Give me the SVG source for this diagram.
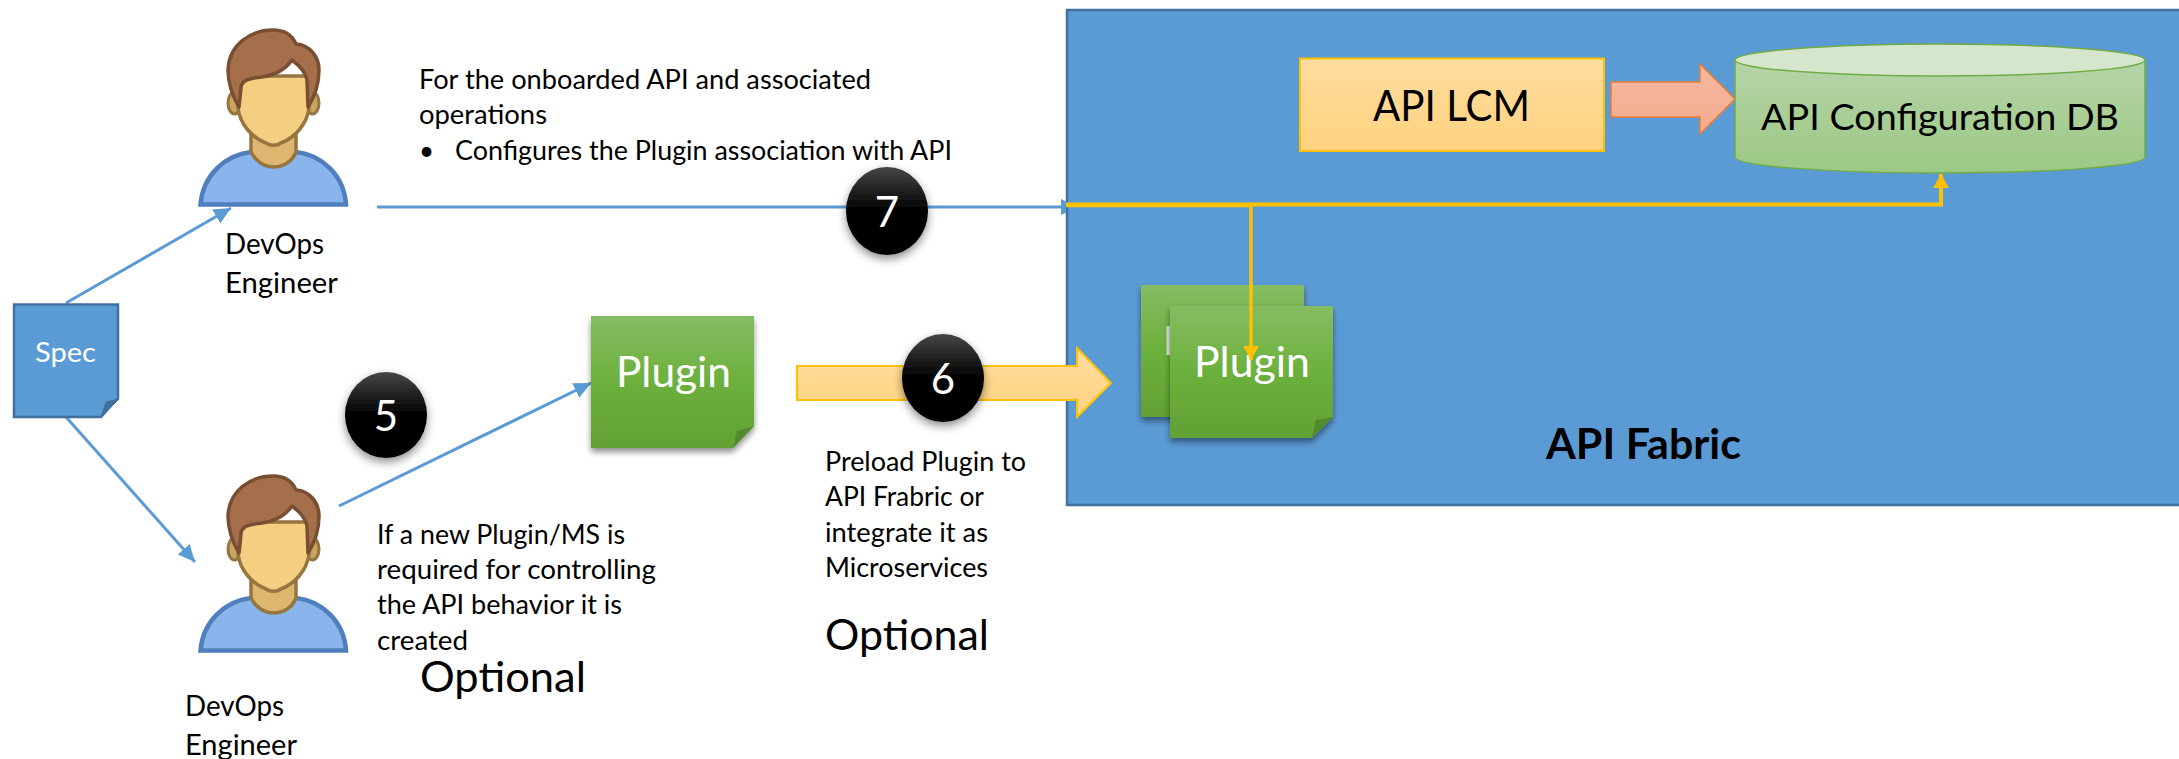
<svg xmlns="http://www.w3.org/2000/svg" xmlns:xlink="http://www.w3.org/1999/xlink" width="2179" height="759" viewBox="0 0 2179 759">
<style>
text{font-family:Lato,"Open Sans",sans-serif;fill:#000}
.b{font-size:26px}
.l{font-size:42px}
.w{fill:#fff}
.blue{stroke:#5b9bd5;stroke-width:3;fill:none}
.gold{stroke:#ffc000;fill:none}
.plug{fill:url(#gp);filter:url(#sh)}
.fold{fill:#528a2e}
.dot{fill:url(#gc);filter:url(#sc)}
</style>
<defs>
<linearGradient id="gp" x1="0" y1="0" x2="0" y2="1"><stop offset="0" stop-color="#85bc63"/><stop offset=".5" stop-color="#6cb03c"/><stop offset="1" stop-color="#62a135"/></linearGradient>
<linearGradient id="gc" x1="0" y1="0" x2="0" y2="1"><stop offset="0" stop-color="#474747"/><stop offset=".5" stop-color="#000"/><stop offset="1" stop-color="#000"/></linearGradient>
<linearGradient id="go" x1="0" y1="0" x2="0" y2="1"><stop offset="0" stop-color="#ffdd9f"/><stop offset="1" stop-color="#ffd27f"/></linearGradient>
<linearGradient id="gr" x1="0" y1="0" x2="0" y2="1"><stop offset="0" stop-color="#f5b8a0"/><stop offset="1" stop-color="#f4ab8e"/></linearGradient>
<linearGradient id="gd" x1="0" y1="0" x2="0" y2="1"><stop offset="0" stop-color="#b6d4a8"/><stop offset="1" stop-color="#9cc884"/></linearGradient>
<filter id="sh" x="-20%" y="-20%" width="140%" height="140%"><feDropShadow dx="0" dy="4" stdDeviation="3" flood-color="#000" flood-opacity=".45"/></filter>
<filter id="sc" x="-30%" y="-30%" width="160%" height="160%"><feDropShadow dx="0" dy="4" stdDeviation="5" flood-color="#000" flood-opacity=".45"/></filter>
<marker id="ab" markerUnits="userSpaceOnUse" markerWidth="18" markerHeight="18" refX="17" refY="8" orient="auto"><path d="M0 0L17 8L0 16Z" fill="#5b9bd5"/></marker>
<marker id="abt" markerUnits="userSpaceOnUse" markerWidth="8" markerHeight="18" refX="5" refY="8" orient="auto"><path d="M0 0L5 2.400V13.600L0 16Z" fill="#5b9bd5"/></marker>
<marker id="ag" markerUnits="userSpaceOnUse" markerWidth="18" markerHeight="18" refX="14" refY="8" orient="auto"><path d="M0 0L14 8L0 16Z" fill="#ffc000"/></marker>
<g id="person">
<path d="M200.500 204.500C203 175 225 155 251 152L296 152C322 155 344 175 346 204.500Z" fill="#8ab4ec" stroke="#4f7fbc" stroke-width="4.500"/>
<ellipse cx="234.500" cy="103" rx="6.500" ry="11" fill="#c9a45f" stroke="#957640" stroke-width="3"/>
<ellipse cx="312.500" cy="103" rx="6.500" ry="11" fill="#c9a45f" stroke="#957640" stroke-width="3"/>
<path d="M251 130V152C256 162 265 167 273.500 167C283 167 292 162 296 152V130Z" fill="#deb670" stroke="#957640" stroke-width="3.500"/>
<path d="M238 76V108C240 125 253 138 266 143C270 146 277 146 281 143C294 138 307 125 309 108V76Z" fill="#f4cf82" stroke="#957640" stroke-width="3.500"/>
<path d="M239 107C232 95 228 82 228 70C229 45 250 30 273 30C284 30 292 35 296 44C310 45 319 57 319 70C319 82 315 96 308 107L307 80C306 73 300 66 292 60C285 70 276 75 262 77C250 78 241 80 241 88Z" fill="#a56f4c" stroke="#7a4e33" stroke-width="3.500" stroke-linejoin="round"/>
</g>
</defs>

<g id="api-fabric">
<rect x="1067" y="10" width="1120" height="495" fill="#5b9bd5" stroke="#41719c" stroke-width="2.500"/>
<text x="1546" y="459" class="l" font-weight="700" textLength="195" lengthAdjust="spacingAndGlyphs">API Fabric</text>
</g>

<g id="api-lcm">
<rect x="1300" y="58.500" width="304" height="92.500" fill="url(#go)" stroke="#ffc000" stroke-width="2"/>
<text x="1373" y="121" class="l" textLength="157" lengthAdjust="spacingAndGlyphs">API LCM</text>
</g>

<g id="lcm-arrow">
<path d="M1611 82H1700V64L1735 99L1700 134V117H1611Z" fill="url(#gr)" stroke="#ed7d31" stroke-width="1.500"/>
</g>

<g id="config-db">
<path d="M1735 60V157C1735 166 1827 173 1940 173C2053 173 2145 166 2145 157V60Z" fill="url(#gd)" stroke="#70ad47" stroke-width="1.500"/>
<ellipse cx="1940" cy="60" rx="205" ry="16" fill="#d5e6cd" stroke="#70ad47" stroke-width="1.500"/>
<text x="1761" y="130" font-size="36" textLength="358" lengthAdjust="spacingAndGlyphs">API Configuration DB</text>
</g>

<g id="plugin-stack">
<rect x="1141" y="285" width="163" height="132" class="plug"/>
<rect x="1166.500" y="326" width="3.500" height="29" fill="#dce8d5"/>
<path d="M1170 306H1333V417L1312 438H1170Z" class="plug"/>
<path d="M1333 417L1312 438L1316 420Z" class="fold"/>
<text x="1194" y="377" class="l w" textLength="116" lengthAdjust="spacingAndGlyphs">Plugin</text>
</g>

<g id="connectors">
<line x1="66" y1="303" x2="231" y2="208" class="blue" marker-end="url(#ab)"/>
<line x1="66" y1="417" x2="195" y2="562" class="blue" marker-end="url(#ab)"/>
<line x1="339" y1="506" x2="591" y2="383" class="blue" marker-end="url(#ab)"/>
<line x1="377" y1="207" x2="1066" y2="207" class="blue" marker-end="url(#abt)"/>
<path d="M1066 204.500H1941V174" class="gold" stroke-width="4" marker-end="url(#ag)"/>
<path d="M1066 205.500H1251V360" class="gold" stroke-width="3.500" marker-end="url(#ag)"/>
</g>

<g id="preload-arrow">
<path d="M797 366H1077V348L1111 383L1077 417V400H797Z" fill="url(#go)" stroke="#ffc000" stroke-width="2"/>
</g>

<g id="spec">
<path d="M14 304.500H118V398L101 417H14Z" fill="#5b9bd5" stroke="#41719c" stroke-width="2.500"/>
<path d="M119 399L101 417L106 402Z" fill="#3f6f9c" stroke="#41719c"/>
<text x="35" y="362" font-size="27" class="w" textLength="61" lengthAdjust="spacingAndGlyphs">Spec</text>
</g>

<g id="devops-1">
<use href="#person" xlink:href="#person"/>
<text x="225" y="254" font-size="28" textLength="99" lengthAdjust="spacingAndGlyphs">DevOps</text>
<text x="225" y="293" font-size="28" textLength="113" lengthAdjust="spacingAndGlyphs">Engineer</text>
</g>

<g id="devops-2">
<use href="#person" xlink:href="#person" y="446"/>
<text x="185" y="716" font-size="28" textLength="99" lengthAdjust="spacingAndGlyphs">DevOps</text>
<text x="185" y="755" font-size="28" textLength="112" lengthAdjust="spacingAndGlyphs">Engineer</text>
</g>

<g id="plugin">
<path d="M591 316H754V426L733 448H591Z" class="plug"/>
<path d="M754 426L733 448L737 431Z" class="fold"/>
<text x="616" y="387" class="l w" textLength="115" lengthAdjust="spacingAndGlyphs">Plugin</text>
</g>

<g id="step-5"><ellipse cx="386" cy="415" rx="41" ry="43" class="dot"/><text x="386" y="431" class="l w" text-anchor="middle">5</text></g>
<g id="step-6"><ellipse cx="943" cy="378" rx="41" ry="44" class="dot"/><text x="943" y="394" class="l w" text-anchor="middle">6</text></g>
<g id="step-7"><ellipse cx="887" cy="211" rx="41" ry="44" class="dot"/><text x="887" y="227" class="l w" text-anchor="middle">7</text></g>

<g id="note-7">
<text x="419" y="89" class="b" textLength="452" lengthAdjust="spacingAndGlyphs">For the onboarded API and associated</text>
<text x="419" y="124" class="b" textLength="128" lengthAdjust="spacingAndGlyphs">operations</text>
<text x="419" y="160" class="b">•</text>
<text x="455" y="160" class="b" textLength="497" lengthAdjust="spacingAndGlyphs">Configures the Plugin association with API</text>
</g>

<g id="note-5">
<text x="377" y="544" class="b" textLength="248" lengthAdjust="spacingAndGlyphs">If a new Plugin/MS is</text>
<text x="377" y="579" class="b" textLength="279" lengthAdjust="spacingAndGlyphs">required for controlling</text>
<text x="377" y="614" class="b" textLength="245" lengthAdjust="spacingAndGlyphs">the API behavior it is</text>
<text x="377" y="650" class="b" textLength="91" lengthAdjust="spacingAndGlyphs">created</text>
<text x="420" y="692" class="l" textLength="166" lengthAdjust="spacingAndGlyphs">Optional</text>
</g>

<g id="note-6">
<text x="825" y="471" class="b" textLength="201" lengthAdjust="spacingAndGlyphs">Preload Plugin to</text>
<text x="825" y="506" class="b" textLength="159" lengthAdjust="spacingAndGlyphs">API Frabric or</text>
<text x="825" y="542" class="b" textLength="163" lengthAdjust="spacingAndGlyphs">integrate it as</text>
<text x="825" y="577" class="b" textLength="163" lengthAdjust="spacingAndGlyphs">Microservices</text>
<text x="825" y="650" class="l" textLength="164" lengthAdjust="spacingAndGlyphs">Optional</text>
</g>
</svg>
